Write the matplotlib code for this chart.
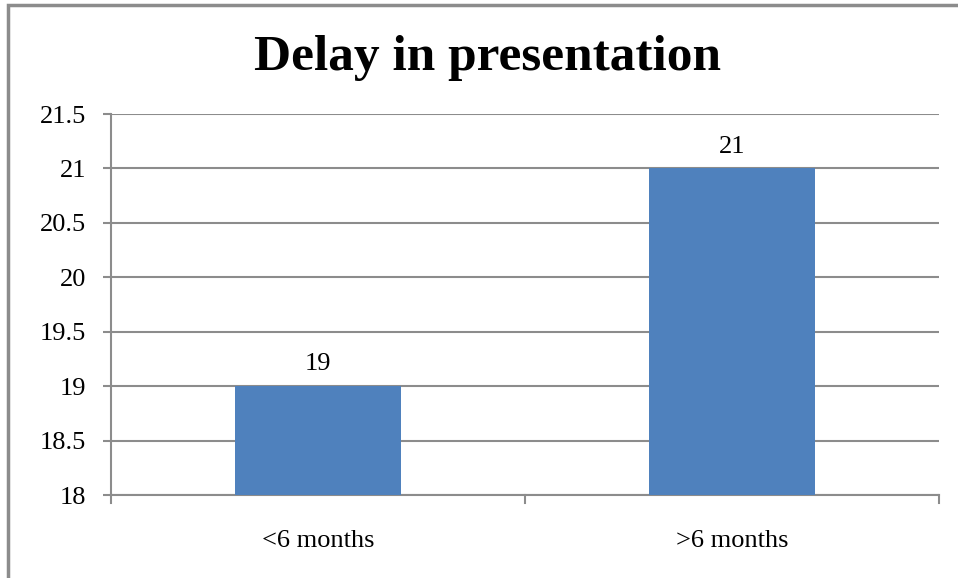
import matplotlib
matplotlib.use("Agg")
import matplotlib.pyplot as plt
from matplotlib.patches import Rectangle

categories = ["<6 months", ">6 months"]
values = [19, 21]
y_ticks = [18, 18.5, 19, 19.5, 20, 20.5, 21, 21.5]
title = "Delay in presentation"

W, H = 958, 578
fig = plt.figure(figsize=(W / 100, H / 100), dpi=100, facecolor="white")
plt.rcParams["font.family"] = ["Liberation Serif", "DejaVu Serif"]

# outer chart border (only left/top visible, rest cropped)
fig.patches.append(Rectangle((7.5 / W, -0.1), 1.2, 1.1 - 5.5 / H,
                             transform=fig.transFigure, fill=False,
                             edgecolor="#8c8c8c", lw=2.5))

ax = fig.add_axes([111 / W, 1 - 495 / H, (939 - 111) / W, (495 - 114) / H])
grid_c = "#8c8c8c"

ax.bar(range(len(values)), values, width=0.4, color="#4f81bd", zorder=3)
ax.set_xlim(-0.5, len(values) - 0.5)
ax.set_ylim(18, 21.5)
ax.set_yticks(y_ticks)
ax.set_yticklabels([f"{t:g}" for t in y_ticks], fontsize=19)
ax.yaxis.grid(True, color=grid_c, lw=1.5, zorder=0)

ax.set_xticks(range(len(values)))
ax.set_xticklabels(categories, fontsize=19)
ax.tick_params(axis="x", length=0, pad=25)
ax.tick_params(axis="y", length=6, width=1.5, color=grid_c, pad=12)

# category boundary ticks on x axis
for xb in [-0.5 + i for i in range(len(values) + 1)]:
    ax.plot([xb, xb], [18, 17.93], color=grid_c, lw=1.5, clip_on=False, zorder=4)

for s in ["top", "right"]:
    ax.spines[s].set_visible(False)
for s in ["left", "bottom"]:
    ax.spines[s].set_color(grid_c)
    ax.spines[s].set_linewidth(1.5)

for i, v in enumerate(values):
    ax.text(i, v + 0.1, f"{v:g}", ha="center", va="bottom", fontsize=19)

fig.text(487 / W, 1 - 58 / H, title, ha="center", va="center",
         fontsize=37, fontweight="bold")

fig.savefig("out.png", dpi=100, facecolor="white")
